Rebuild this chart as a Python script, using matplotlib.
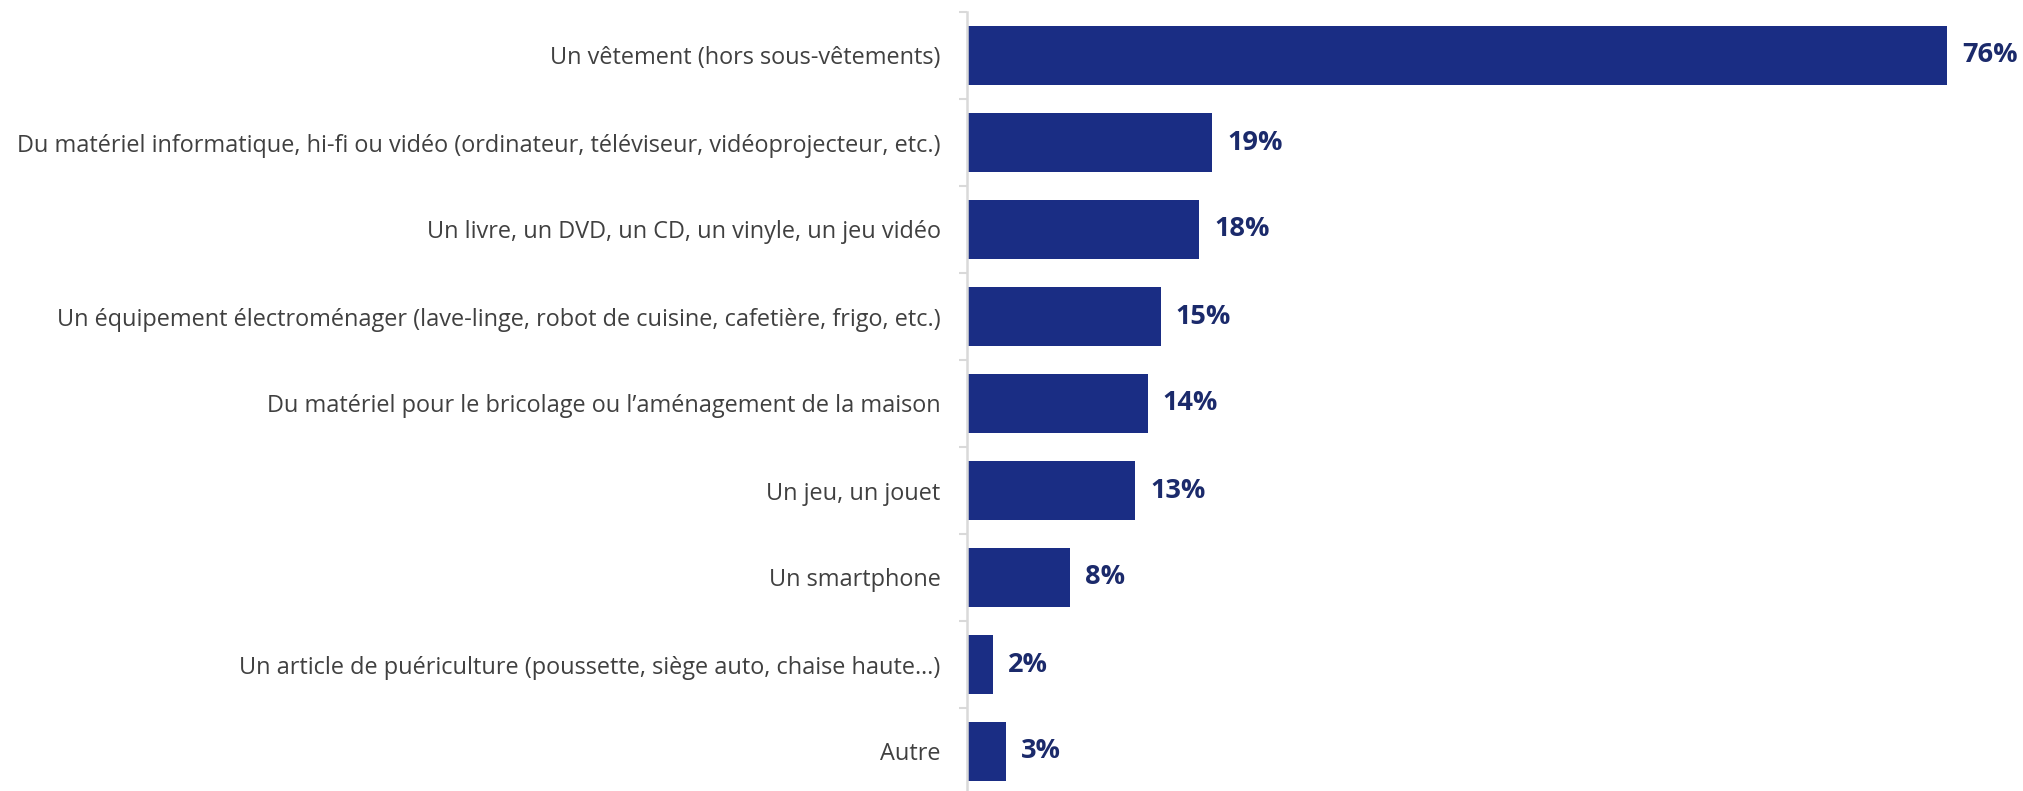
import matplotlib.pyplot as plt
from matplotlib.ticker import FixedLocator

categories = [
    "Un vêtement (hors sous-vêtements)",
    "Du matériel informatique, hi-fi ou vidéo (ordinateur, téléviseur, vidéoprojecteur, etc.)",
    "Un livre, un DVD, un CD, un vinyle, un jeu vidéo",
    "Un équipement électroménager (lave-linge, robot de cuisine, cafetière, frigo, etc.)",
    "Du matériel pour le bricolage ou l’aménagement de la maison",
    "Un jeu, un jouet",
    "Un smartphone",
    "Un article de puériculture (poussette, siège auto, chaise haute…)",
    "Autre",
]
values = [76, 19, 18, 15, 14, 13, 8, 2, 3]

bar_color = "#1a2d84"
label_color = "#1b2a6b"
text_color = "#404040"

plt.rcParams["font.family"] = ["Open Sans", "DejaVu Sans"]

fig = plt.figure(figsize=(20.24, 7.91), dpi=100)
ax = fig.add_axes([967 / 2024, 0, 1032 / 2024, 779 / 791])

pos = list(range(len(categories)))
ax.barh(pos, values, height=0.67, color=bar_color)

for p, v in zip(pos, values):
    ax.annotate(f"{v}%", (v, p), xytext=(11, 0), textcoords="offset points",
                va="center", ha="left", fontsize=19.5, fontweight="bold",
                color=label_color)

ax.set_xlim(0, 80)
ax.set_ylim(-0.5 + 779 / 87, -0.5)
ax.set_yticks(pos)
ax.set_yticklabels(categories, fontsize=16.9, color=text_color)
ax.tick_params(axis="y", which="major", length=0, pad=19)
ax.yaxis.set_minor_locator(FixedLocator([i - 0.5 for i in range(len(categories) + 1)]))
ax.tick_params(axis="y", which="minor", length=6, width=1.5, color="#d9d9d9")
ax.set_xticks([])

for s in ["top", "right", "bottom"]:
    ax.spines[s].set_visible(False)
ax.spines["left"].set_color("#d9d9d9")
ax.spines["left"].set_linewidth(1.8)

fig.savefig("out.png", dpi=100)
